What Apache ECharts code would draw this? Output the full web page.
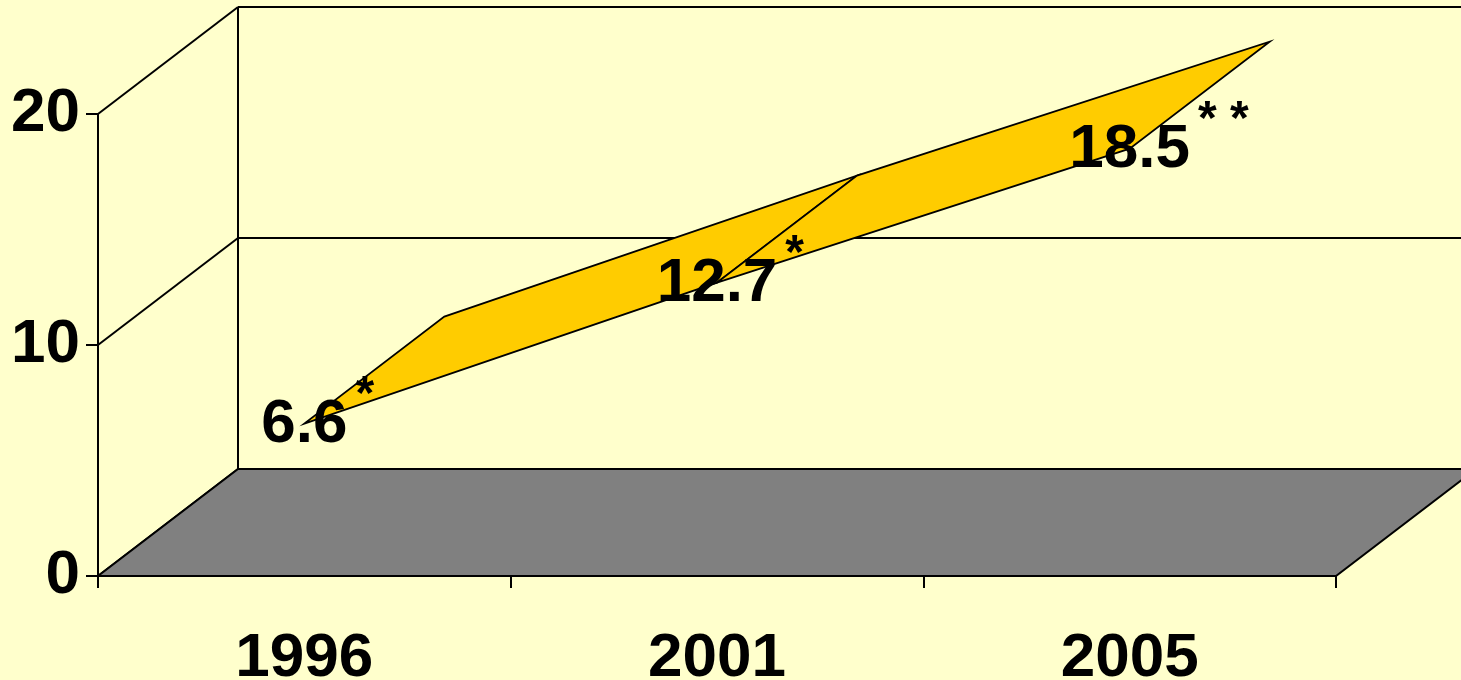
<!DOCTYPE html>
<html>
<head>
<meta charset="utf-8">
<script src="https://cdn.jsdelivr.net/npm/echarts@6/dist/echarts.min.js"></script>
<style>
html,body{margin:0;padding:0;background:#FFFFCC;}
#chart{width:1461px;height:680px;}
</style>
</head>
<body>
<div id="chart"></div>
<script>
// ---- data ----
const years = ['1996', '2001', '2005'];
const values = [6.6, 12.7, 18.5];
const marks = ['*', '*', '* *'];
const yTicks = [0, 10, 20];

// ---- style constants ----
const DX = 140, DY = -107;          // depth offset of the 3D box
const FONT_FAMILY = '"Liberation Sans", Arial, sans-serif';
const NUM_FONT = 'bold 62px ' + FONT_FAMILY;
const AST_FONT = 'bold 48px ' + FONT_FAMILY;

const measureCtx = document.createElement('canvas').getContext('2d');
function textWidth(t, font) { measureCtx.font = font; return measureCtx.measureText(t).width; }
function off(p) { return [p[0] + DX, p[1] + DY]; }

const nCat = years.length;
const ribbonData = values.slice(0, -1).map((v, i) => [i + 0.5, v, i + 1.5, values[i + 1]]);
const labelData = values.map((v, i) => [i + 0.5, v, i]);
const wallData = yTicks.map(v => [v]);

const chart = echarts.init(document.getElementById('chart'));
chart.setOption({
  backgroundColor: '#FFFFCC',
  animation: false,
  grid: [{ left: 98, width: 1238, top: 114, height: 462, containLabel: false, outerBoundsMode: 'none' }],
  xAxis: [
    {
      type: 'category', gridIndex: 0, data: years, boundaryGap: true,
      axisLine: { show: true, lineStyle: { color: '#000', width: 2 } },
      axisTick: { show: true, length: 12, inside: false, interval: 0, lineStyle: { color: '#000', width: 2 } },
      axisLabel: { color: '#000', fontSize: 62, fontWeight: 'bold', fontFamily: FONT_FAMILY, margin: 52 },
      splitLine: { show: false }
    },
    { type: 'value', gridIndex: 0, min: 0, max: nCat, show: false }
  ],
  yAxis: [{
    type: 'value', gridIndex: 0, min: 0, max: 20, interval: 10,
    axisLine: { show: true, lineStyle: { color: '#000', width: 2 } },
    axisTick: { show: true, length: 12, inside: false, lineStyle: { color: '#000', width: 2 } },
    axisLabel: { color: '#000', fontSize: 62, fontWeight: 'bold', fontFamily: FONT_FAMILY, margin: 18 },
    splitLine: { show: false }
  }],
  series: [
    { // walls: side diagonals, back gridlines, back vertical edge
      type: 'custom', xAxisIndex: 1, yAxisIndex: 0, z: 1, clip: false,
      data: wallData,
      renderItem: function (params, api) {
        const v = api.value(0);
        const a = api.coord([0, v]);
        const b = api.coord([nCat, v]);
        const ls = { stroke: '#000', lineWidth: 2 };
        const children = [
          { type: 'line', shape: { x1: a[0], y1: a[1], x2: off(a)[0], y2: off(a)[1] }, style: ls },
          { type: 'line', shape: { x1: off(a)[0], y1: off(a)[1], x2: off(b)[0], y2: off(b)[1] }, style: ls }
        ];
        if (params.dataIndex === 0) {
          const t = off(api.coord([0, 20]));
          children.push({ type: 'line', shape: { x1: off(a)[0], y1: off(a)[1], x2: t[0], y2: t[1] }, style: ls });
        }
        return { type: 'group', children: children };
      }
    },
    { // floor
      type: 'custom', xAxisIndex: 1, yAxisIndex: 0, z: 2, clip: false,
      data: [[0]],
      renderItem: function (params, api) {
        const a = api.coord([0, 0]);
        const b = api.coord([nCat, 0]);
        return {
          type: 'polygon',
          shape: { points: [a, b, off(b), off(a)] },
          style: { fill: '#808080', stroke: '#000', lineWidth: 2 }
        };
      }
    },
    { // ribbon
      type: 'custom', xAxisIndex: 1, yAxisIndex: 0, z: 3, clip: false,
      data: ribbonData,
      renderItem: function (params, api) {
        const f0 = api.coord([api.value(0), api.value(1)]);
        const f1 = api.coord([api.value(2), api.value(3)]);
        return {
          type: 'polygon',
          shape: { points: [f0, f1, off(f1), off(f0)] },
          style: { fill: '#FFCC00', stroke: '#000', lineWidth: 1.8, lineJoin: 'miter' }
        };
      }
    },
    { // value labels with superscript marks
      type: 'custom', xAxisIndex: 1, yAxisIndex: 0, z: 4, clip: false,
      data: labelData,
      renderItem: function (params, api) {
        const p = api.coord([api.value(0), api.value(1)]);
        const idx = api.value(2);
        const txt = values[idx].toFixed(1);
        const w = textWidth(txt, NUM_FONT);
        return {
          type: 'group',
          children: [
            { type: 'text', x: p[0], y: p[1] + 1,
              style: { text: txt, font: NUM_FONT, fill: '#000', align: 'center', verticalAlign: 'middle' } },
            { type: 'text', x: p[0] + w / 2 + 8, y: p[1] - 28,
              style: { text: marks[idx], font: AST_FONT, fill: '#000', align: 'left', verticalAlign: 'middle' } }
          ]
        };
      }
    }
  ]
});
</script>
</body>
</html>
